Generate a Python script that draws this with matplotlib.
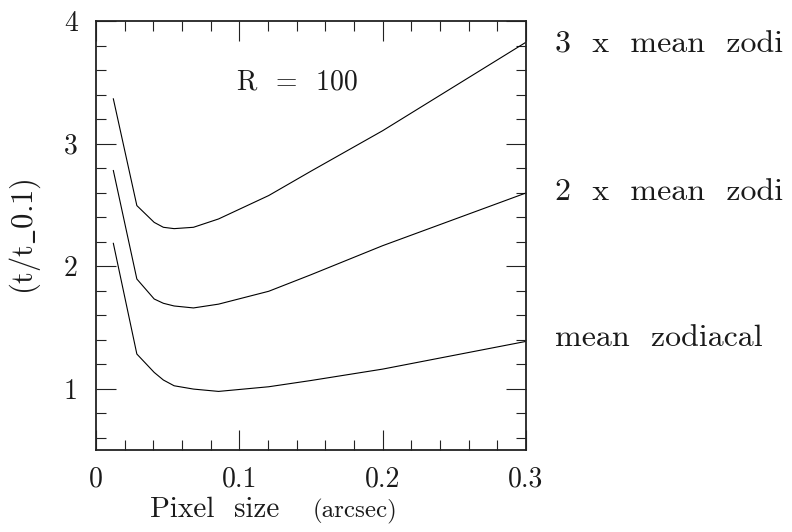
import matplotlib
matplotlib.use("Agg")
import matplotlib.pyplot as plt
from matplotlib.ticker import MultipleLocator

# Data
x_3z = [0.0121, 0.0285, 0.0406, 0.047, 0.0545, 0.068, 0.0855, 0.1205, 0.15, 0.20, 0.30]
y_3z = [3.365, 2.494, 2.357, 2.317, 2.306, 2.317, 2.385, 2.576, 2.775, 3.105, 3.827]

x_2z = [0.0121, 0.0285, 0.0406, 0.047, 0.0545, 0.068, 0.0855, 0.1205, 0.15, 0.20, 0.30]
y_2z = [2.78, 1.895, 1.732, 1.697, 1.675, 1.659, 1.69, 1.795, 1.93, 2.167, 2.597]

x_1z = [0.0121, 0.0285, 0.0406, 0.047, 0.0545, 0.068, 0.0855, 0.1205, 0.15, 0.20, 0.30]
y_1z = [2.186, 1.283, 1.133, 1.071, 1.024, 0.997, 0.978, 1.016, 1.067, 1.16, 1.386]

series_labels = ["3  x  mean  zodi", "2  x  mean  zodi", "mean  zodiacal"]
annotation = "R  =  100"
xlabel_main = "Pixel  size"
xlabel_unit = "(arcsec)"
ylabel = r"$\mathrm{(t/t\_0.1)}$"

FONT = ["cmr10", "DejaVu Serif"]
TXT = "#1a1a1a"
plt.rcParams["axes.formatter.use_mathtext"] = True
plt.rcParams["mathtext.fontset"] = "cm"

fig = plt.figure(figsize=(7.92, 5.32), dpi=100)
ax = fig.add_axes([96/792, 1-450/532, (526-96)/792, (450-21)/532])

for xs, ys in [(x_3z, y_3z), (x_2z, y_2z), (x_1z, y_1z)]:
    ax.plot(xs, ys, color="black", lw=0.8)

ax.set_xlim(0, 0.3)
ax.set_ylim(0.5, 4)
ax.xaxis.set_minor_locator(MultipleLocator(0.02))
ax.yaxis.set_minor_locator(MultipleLocator(0.2))
ax.set_xticks([0, 0.1, 0.2, 0.3])
ax.set_xticklabels(["0", "0.1", "0.2", "0.3"])
ax.set_yticks([1, 2, 3, 4])
ax.set_yticklabels(["1", "2", "3", "4"])

ax.tick_params(which="both", direction="in", top=True, right=True, color="#222222")
ax.tick_params(which="major", length=14.5, width=0.8, labelsize=20, labelcolor=TXT)
ax.tick_params(axis="x", which="major", pad=12)
ax.tick_params(axis="y", which="major", pad=13)
ax.tick_params(which="minor", length=7.5, width=0.8)
for lab in ax.get_xticklabels() + ax.get_yticklabels():
    lab.set_fontfamily(FONT)
for sp in ax.spines.values():
    sp.set_linewidth(1.3)
    sp.set_color("#222222")

ax.text(0.1406, 3.50, annotation, fontsize=20, family=FONT, color=TXT,
        ha="center", va="center")

# right-hand series labels
label_y = [45, 192, 338]
for lab, py in zip(series_labels, label_y):
    fig.text(555/792, 1-py/532, lab, fontsize=23, family=FONT, color=TXT,
             ha="left", va="center")

# y label
fig.text(25/792, 1-237/532, ylabel, fontsize=22, color=TXT,
         rotation=90, ha="center", va="center")

# x label: main part + smaller unit
base_y = (532 - 517) / 532
fig.text(150/792, base_y, xlabel_main, fontsize=21, family=FONT, color=TXT,
         ha="left", va="baseline")
fig.text(313/792, base_y, xlabel_unit, fontsize=18, family=FONT, color=TXT,
         ha="left", va="baseline")

fig.savefig("out.png", dpi=100)
